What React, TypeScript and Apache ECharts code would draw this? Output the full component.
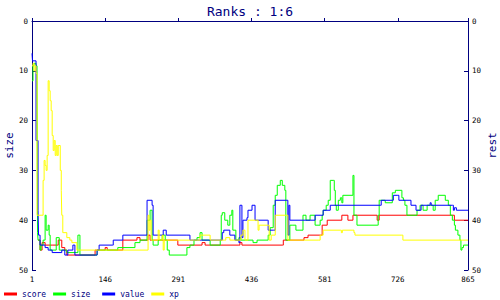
import React, { useEffect, useRef } from "react";
import * as echarts from "echarts";

const xTicks = [1, 146, 291, 436, 581, 726, 865];
const seriesNames = ["score", "size", "value", "xp"];

const scorePts = [
  [13, 44], [17, 46], [21, 44.5], [27, 45], [41, 45], [53, 44], [60, 45.5], [66, 46], [70, 47],
  [92, 47], [126, 46], [136, 46], [146, 45.5], [150, 46], [181, 44], [209, 43.5], [215, 44], [229, 44],
  [231, 43], [235, 44], [290, 45], [334, 45], [338, 44.5], [344, 45], [411, 45], [413, 44.5], [417, 45],
  [497, 45], [499, 44], [538, 44], [540, 43.5], [548, 43], [572, 43], [576, 41], [586, 40], [615, 39],
  [627, 40], [637, 39], [685, 40], [689, 39], [832, 39], [838, 40], [865, 40],
];

const sizePts = [
  [1, 12], [3, 9], [5, 8.5], [9, 9], [11, 12], [12, 42.5], [13, 44], [17, 46], [19, 45], [23, 44], [27, 39],
  [29, 42], [33, 41], [35, 43], [37, 46], [49, 43.5], [55, 46], [70, 46.5], [90, 46.5], [92, 43], [96, 47],
  [106, 47], [130, 46], [171, 45.5], [205, 44.5], [215, 44], [229, 40], [235, 38], [239, 44], [241, 45],
  [251, 44], [259, 43], [265, 44], [269, 46], [273, 47], [308, 45.5], [314, 45], [322, 44], [328, 43.5],
  [334, 42.5], [338, 44], [354, 45], [374, 44], [376, 39], [378, 38.5], [383, 40], [389, 41], [393, 39],
  [397, 38], [399, 42], [405, 44], [411, 43.5], [415, 44], [439, 44.5], [447, 44], [469, 43], [473, 41.5],
  [479, 37], [483, 35], [487, 33], [493, 32], [497, 33], [502, 34], [504, 44], [512, 41], [518, 41],
  [524, 42], [532, 42], [538, 39], [544, 40], [552, 39], [562, 41], [572, 40], [576, 39], [578, 38],
  [584, 37], [588, 36], [592, 32], [598, 32], [600, 34], [602, 37], [604, 38], [608, 36], [612, 35.5],
  [615, 36.5], [617, 35], [637, 31], [639, 39], [645, 41], [685, 41], [687, 39], [689, 36], [701, 36.5],
  [715, 34.5], [721, 34], [734, 35.5], [737, 36], [740, 37], [744, 39], [764, 38], [770, 37], [776, 38],
  [784, 37], [796, 38], [800, 36], [806, 35], [820, 36], [826, 37], [830, 39], [834, 40], [838, 41],
  [840, 42], [845, 43], [849, 44], [851, 46], [853, 45.5], [856, 45], [865, 45],
];

const valuePts = [
  [1, 6.5], [2, 8], [9, 24], [13, 38], [14, 43], [17, 45], [27, 45.5], [33, 46], [41, 46.5], [60, 46],
  [66, 47], [72, 46], [82, 45], [86, 47], [128, 47], [130, 46], [134, 45], [160, 45], [162, 44], [181, 43],
  [229, 36], [239, 37], [241, 43], [255, 43], [261, 42], [267, 43], [308, 43], [314, 44], [374, 44],
  [378, 42.5], [381, 42], [393, 43], [403, 44], [411, 44.5], [413, 37], [417, 43.5], [419, 40], [427, 39.5],
  [429, 38], [437, 37], [443, 40], [449, 40], [467, 40], [469, 42], [479, 42], [483, 36], [506, 36],
  [508, 43], [510, 37], [512, 40], [552, 40], [562, 39], [578, 38], [592, 37], [691, 37], [693, 36],
  [715, 36], [717, 35], [726, 35], [728, 36], [750, 36], [752, 37], [760, 37], [762, 38], [770, 38],
  [772, 37], [788, 37], [790, 36.5], [792, 37], [834, 37], [836, 38], [838, 37.5], [842, 38], [865, 38],
];

const xpPts = [
  [1, 9], [3, 8.5], [5, 10], [7, 9], [9, 10.5], [11, 39], [23, 32], [25, 28], [27, 29], [29, 30], [31, 27],
  [33, 12], [35, 14], [37, 16], [39, 18], [41, 23], [43, 26], [45, 24], [47, 27], [49, 25], [51, 27],
  [53, 25], [57, 30], [59, 34], [60, 39], [62, 42.5], [70, 43.5], [76, 44], [80, 44.5], [90, 46],
  [229, 46], [231, 39], [233, 42], [235, 40], [237, 44], [249, 44], [251, 42], [253, 44], [259, 43],
  [261, 46], [263, 44], [334, 43], [354, 44], [383, 44], [385, 43.5], [393, 44], [413, 44], [415, 43],
  [419, 42], [423, 44], [429, 40], [447, 40], [449, 42], [451, 41], [469, 41], [471, 44], [475, 43],
  [483, 39], [506, 39], [508, 44], [568, 44], [572, 43], [578, 42], [612, 42], [614, 42.5], [616, 42],
  [637, 42], [639, 42.5], [641, 43], [734, 43], [736, 44], [865, 44],
];

const seriesColors = ["#ff0000", "#00ff00", "#0000ff", "#ffff00"];

export default function App() {
  const ref = useRef<HTMLDivElement>(null);
  useEffect(() => {
    const chart = echarts.init(ref.current!, null, { renderer: "svg" });
    const mono = "DejaVu Sans Mono, monospace";
    const navy = "#000080";
    const datasets = [scorePts, sizePts, valuePts, xpPts];
    const yAx = (name: string, position: string) => ({
      type: "value",
      position,
      inverse: true,
      min: 0,
      max: 50,
      interval: 10,
      name,
      nameLocation: "middle",
      nameGap: position === "left" ? 17 : 19,
      nameMoveOverlap: false,
      nameTextStyle: { color: navy, fontFamily: mono, fontSize: 11 },
      axisLine: { show: true, lineStyle: { color: navy, width: 1 } },
      axisTick: { show: true, inside: true, length: 4, lineStyle: { color: navy } },
      axisLabel: { color: "#000", fontFamily: mono, fontSize: 7.5, margin: 4 },
      splitLine: { show: false },
    });
    chart.setOption({
      animation: false,
      backgroundColor: "#fff",
      title: {
        text: "Ranks : 1:6",
        left: "center",
        top: 0,
        textStyle: { color: navy, fontFamily: mono, fontSize: 13, fontWeight: "normal" },
      },
      grid: {
        left: 32,
        right: 32,
        top: 21,
        bottom: 30,
        containLabel: false,
        outerBoundsMode: "none",
      },
      legend: {
        data: seriesNames,
        left: 4,
        top: 290,
        padding: 0,
        icon: "rect",
        itemWidth: 13,
        itemHeight: 3,
        itemGap: 7,
        formatter: (n: string) => n.padEnd(5, "\u00a0"),
        textStyle: { color: navy, fontFamily: mono, fontSize: 8 },
      },
      xAxis: {
        type: "value",
        min: 1,
        max: 865,
        axisLine: { show: true, lineStyle: { color: navy, width: 1 } },
        axisTick: { show: true, inside: true, length: 3, lineStyle: { color: navy }, customValues: xTicks },
        axisLabel: { color: "#000", fontFamily: mono, fontSize: 7.5, margin: 5, customValues: xTicks },
        splitLine: { show: false },
      },
      yAxis: [yAx("size", "left"), yAx("rest", "right")],
      series: seriesNames.map((n, i) => ({
        name: n,
        type: "line",
        step: "end",
        data: datasets[i],
        symbol: "none",
        yAxisIndex: 0,
        lineStyle: { color: seriesColors[i], width: 1 },
        itemStyle: { color: seriesColors[i] },
      })),
    });
    return () => chart.dispose();
  }, []);
  return (
    <div
      ref={ref}
      style={{ position: "absolute", left: 0, top: 0, width: 500, height: 300 }}
    />
  );
}
